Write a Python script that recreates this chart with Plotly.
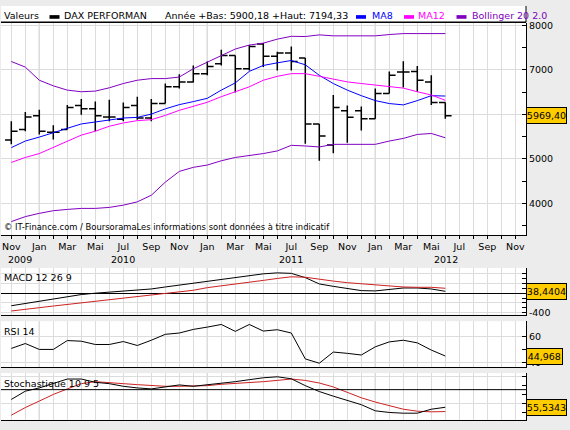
import plotly.graph_objects as go

# monthly bars, Nov 2009 .. Jun 2012 (index 0 = Nov 2009)
months = list(range(32))
open_ = [5424, 5660, 5970, 5601, 5660, 6199, 6125, 5941, 5889, 6199, 5919, 6244,
         6620, 6731, 6915, 7137, 7322, 7026, 7580, 7307, 7381, 7270, 5786, 5313,
         6081, 6081, 5904, 6472, 6952, 6967, 6731, 6266]
high = [5845, 6052, 6103, 5756, 6214, 6347, 6288, 6332, 6266, 6399, 6347, 6694,
        6901, 7100, 7189, 7454, 7322, 7558, 7602, 7410, 7528, 7270, 5786, 6435,
        6199, 6177, 6583, 6967, 7194.33, 7085, 6878, 6266]
low = [5328, 5624, 5550, 5439, 5660, 5992, 5624, 5845, 5845, 5882, 5845, 6244,
       6583, 6716, 6878, 7100, 6495, 6989, 7063, 6989, 6989, 5343, 4959, 5129,
       5365, 5638, 5904, 6472, 6605, 6509, 6214, 5900.18]
close = [5624, 5941, 5624, 5601, 6155, 6125, 5970, 5941, 6155, 5919, 6244, 6620,
         6731, 6915, 7078, 7322, 7026, 7528, 7307, 7381, 7189, 5786, 5513, 6155,
         5934, 5904, 6472, 6878, 6952, 6768, 6266, 5969.40]

ma8 = [5254, 5402, 5491, 5586, 5697, 5786, 5830, 5882, 5919, 5934, 6007, 6125,
       6220, 6288, 6362, 6546, 6709, 6967, 7100, 7159, 7211, 7115, 6878, 6694,
       6546, 6421, 6310, 6244, 6214, 6310, 6421, 6413]
ma12 = [4922, 5033, 5121, 5254, 5402, 5535, 5623, 5734, 5808, 5860, 5882, 5978,
        6092, 6177, 6273, 6399, 6509, 6620, 6768, 6856, 6916, 6916, 6856, 6790,
        6731, 6694, 6657, 6620, 6591, 6509, 6436, 6317]
boll_up = [7189, 7063, 6768, 6642, 6546, 6509, 6524, 6598, 6694, 6768, 6805, 6805,
           6840, 7026, 7174, 7322, 7469, 7558, 7602, 7691, 7755, 7750, 7787, 7765,
           7765, 7765, 7765, 7794, 7816, 7816, 7816, 7816]
boll_low = [3593, 3704, 3778, 3837, 3866, 3889, 3889, 3911, 3962, 4036, 4184, 4479,
            4720, 4811, 4863, 4959, 5033, 5070, 5121, 5180, 5306, 5291, 5269, 5328,
            5328, 5313, 5328, 5402, 5461, 5550, 5572, 5476]

macd = [-258, -210, -163, -129, -75, -28, 0, 20, 40, 60, 87, 128,
        168, 209, 249, 283, 331, 371, 398, 418, 408, 320, 190, 141,
        94, 53, 47, 80, 107, 107, 87, 38.4404]
macd_signal = [-366, -325, -298, -264, -231, -197, -163, -136, -102, -75, -41, -7,
               26, 60, 114, 155, 195, 229, 263, 303, 337, 328, 283, 249,
               216, 195, 168, 141, 128, 121, 121, 101]
rsi = [50.75, 54.5, 50, 50, 56.75, 56.25, 53.75, 53.75, 56, 53, 57, 61.5,
       62.5, 65.25, 67, 69, 63.75, 69, 64, 65, 62.5, 42.75, 39.5, 48,
       47, 45.75, 52, 55.75, 57, 55, 49.5, 44.968]
stoch_k = [64.2, 73.3, 76.9, 81.6, 86.7, 86.7, 83.1, 81.6, 78.7, 76.9, 75.8, 78.0,
           80.2, 78.7, 80.2, 82.3, 83.8, 86.0, 88.1, 89.2, 87.0, 79.4, 72.9, 67.8,
           63.5, 58.4, 51.6, 49.8, 49.0, 49.0, 53.4, 55.5343]
stoch_d = [46.8, 55.2, 62.4, 69.7, 75.8, 81.6, 83.8, 83.1, 81.6, 80.5, 79.4, 78.7,
           78.7, 78.7, 79.4, 80.9, 81.6, 82.3, 83.8, 85.2, 86.7, 85.2, 82.3, 78.0,
           72.2, 66.0, 61.3, 57.0, 53.4, 51.2, 50.5, 50.8]

# x axis: month slots Nov 2009 .. Nov 2012
month_ticks = list(range(37))
month_labels = ["Nov", "", "Jan", "", "Mar", "", "Mai", "", "Jul", "", "Sep", "",
                "Nov", "", "Jan", "", "Mar", "", "Mai", "", "Jul", "", "Sep", "",
                "Nov", "", "Jan", "", "Mar", "", "Mai", "", "Jul", "", "Sep", "", "Nov"]
year_labels = ["2009", "2010", "2011", "2012"]
year_pos = [0.62, 8.0, 20.0, 31.04]
january_pos = [2, 14, 26]

FONT = "DejaVu Sans"
GRID = "#DCDCDC"
W, H = 570, 430
L, R = 1, 44


def px(x):
    return (x - L) / (W - L - R)


def py(y):
    return 1 - y / H


fig = go.Figure()

fig.add_trace(go.Ohlc(x=months, open=open_, high=high, low=low, close=close,
                      increasing=dict(line=dict(color="black", width=1.5)),
                      decreasing=dict(line=dict(color="black", width=1.5)),
                      tickwidth=0.45, hoverinfo="skip", xaxis="x", yaxis="y"))
for vals, col in [(ma8, "#0000FF"), (ma12, "#FF00FF"), (boll_up, "#8000C0"), (boll_low, "#8000C0")]:
    fig.add_trace(go.Scatter(x=months, y=vals, mode="lines", line=dict(color=col, width=1),
                             hoverinfo="skip", xaxis="x", yaxis="y"))

fig.add_trace(go.Scatter(x=months, y=macd, mode="lines", line=dict(color="black", width=1),
                         xaxis="x2", yaxis="y2"))
fig.add_trace(go.Scatter(x=months, y=macd_signal, mode="lines", line=dict(color="#CC2222", width=1),
                         xaxis="x2", yaxis="y2"))
fig.add_trace(go.Scatter(x=months, y=rsi, mode="lines", line=dict(color="black", width=1),
                         xaxis="x3", yaxis="y3"))
fig.add_trace(go.Scatter(x=months, y=stoch_d, mode="lines", line=dict(color="#CC2222", width=1),
                         xaxis="x4", yaxis="y4"))
fig.add_trace(go.Scatter(x=months, y=stoch_k, mode="lines", line=dict(color="black", width=1),
                         xaxis="x4", yaxis="y4"))

xrange = [-0.736, 36.764]
xbase = dict(range=xrange, tickvals=month_ticks, showgrid=True, gridcolor=GRID,
             showline=True, linecolor="black", linewidth=1, zeroline=False, fixedrange=True)
ybase = dict(side="right", showline=True, linecolor="black", linewidth=1, ticks="inside",
             ticklen=4, tickcolor="black", gridcolor=GRID, zeroline=False,
             fixedrange=True, tickfont=dict(family=FONT, size=9.5, color="black"))

# panel domains (pixel rows of the reference)
dom_main = [py(235.3), py(20)]
dom_macd = [py(316), py(268.7)]
dom_rsi = [py(369.3), py(322.7)]
dom_sto = [py(422.7), py(375.3)]
yr_main = [3291, 8060]
yr_macd = [-440, 519]
yr_rsi = [36.5, 71.5]
yr_sto = [41.7, 93.3]

fig.update_layout(
    width=W, height=H, margin=dict(l=L, r=R, t=0, b=0),
    paper_bgcolor="#ECECEC", plot_bgcolor="white", showlegend=False,
    font=dict(family=FONT, size=9.5, color="black"),
    xaxis=dict(xbase, anchor="y", ticktext=month_labels, ticks="outside", ticklen=3,
               tickcolor="black", tickfont=dict(family=FONT, size=9.5, color="black"),
               rangeslider=dict(visible=False)),
    xaxis2=dict(xbase, anchor="y2", matches="x", showticklabels=False),
    xaxis3=dict(xbase, anchor="y3", matches="x", showticklabels=False),
    xaxis4=dict(xbase, anchor="y4", matches="x", showticklabels=False),
    yaxis=dict(ybase, domain=dom_main, anchor="x", range=yr_main,
               tickvals=[4000, 5000, 6000, 7000, 8000],
               minor=dict(tickvals=[3500, 4500, 5500, 6500, 7500], ticks="inside",
                          ticklen=4, tickcolor="black", showgrid=False)),
    yaxis2=dict(ybase, domain=dom_macd, anchor="x2", range=yr_macd,
                tickvals=[-400, -200, 200, 400], ticktext=["-400", "", "", ""],
                zeroline=True, zerolinecolor="black", zerolinewidth=1,
                minor=dict(tickvals=[-300, -100, 0, 100, 300], ticks="inside",
                           ticklen=4, tickcolor="black", showgrid=False)),
    yaxis3=dict(ybase, domain=dom_rsi, anchor="x3", range=yr_rsi,
                tickvals=[40, 60], ticktext=["40", "60"],
                minor=dict(tickvals=[50], ticks="inside", ticklen=4, tickcolor="black",
                           showgrid=False)),
    yaxis4=dict(ybase, domain=dom_sto, anchor="x4", range=yr_sto,
                tickvals=[60, 90], ticktext=["", ""],
                minor=dict(tickvals=[50, 70, 80], ticks="inside", ticklen=4,
                           tickcolor="black", showgrid=False)),
)

shapes = []
# darker January separators in every panel
for k, yr in [("", yr_main), ("2", yr_macd), ("3", yr_rsi), ("4", yr_sto)]:
    for j in january_pos:
        shapes.append(dict(type="line", xref="x" + k, yref="y" + k, x0=j, x1=j,
                           y0=yr[0], y1=yr[1], line=dict(color="#A0A0A0", width=1),
                           layer="below"))
# stochastic reference line
shapes.append(dict(type="line", xref="x4", yref="y4", x0=xrange[0], x1=xrange[1], y0=75, y1=75,
                   line=dict(color="black", width=1)))
# header band
shapes.append(dict(type="rect", xref="paper", yref="paper", x0=0, x1=1, y0=py(19.5), y1=py(3),
                   fillcolor="white", line=dict(width=0), layer="below"))
shapes.append(dict(type="line", xref="paper", yref="paper", x0=0, x1=1, y0=py(19.5), y1=py(19.5),
                   line=dict(color="black", width=1.5)))
shapes.append(dict(type="line", xref="paper", yref="paper", x0=1, x1=1, y0=py(19.5), y1=py(3),
                   line=dict(color="black", width=1)))
# legend swatches
for x0, col in [(49.5, "black"), (356, "#0000FF"), (404, "#FF00FF"), (456.5, "#8000C0")]:
    shapes.append(dict(type="rect", xref="paper", yref="paper", x0=px(x0), x1=px(x0 + 10),
                       y0=py(16), y1=py(12.3), fillcolor=col, line=dict(width=0)))
fig.update_layout(shapes=shapes)

ann = []


def text(x, y, s, color="black", size=9.5):
    ann.append(dict(xref="paper", yref="paper", x=px(x), y=py(y), text=s, showarrow=False,
                    xanchor="left", yanchor="middle", borderpad=0,
                    font=dict(family=FONT, size=size, color=color)))


text(3, 13, "Valeurs")
text(63, 13, "DAX PERFORMAN")
text(164, 13, "Année +Bas: 5900,18 +Haut: 7194,33")
text(370.5, 13, "MA8", "#0000FF")
text(417, 13, "MA12", "#FF00FF")
text(470.5, 13, "Bollinger 20 2.0", "#8000C0")
text(3, 227, "© IT-Finance.com / BoursoramaLes informations sont données à titre indicatif", size=8.4)
text(3, 278.7, "MACD 12 26 9")
text(3, 332.7, "RSI 14")
text(3, 386, "Stochastique 10 9 5")

for lab, xp in zip(year_labels, year_pos):
    ann.append(dict(xref="x", yref="paper", x=xp, y=py(260.3), text=lab, showarrow=False,
                    xanchor="center", yanchor="middle", font=dict(family=FONT, size=9.5)))

# current value boxes
for yref, val, lab, w in [("y", close[-1], "5969,40", 39), ("y2", macd[-1], "38,4404", 39),
                          ("y3", rsi[-1], "44,968", 34.5), ("y4", stoch_k[-1], "55,5343", 39)]:
    ann.append(dict(xref="paper", yref=yref, x=1, y=val, text=lab, showarrow=False,
                    xanchor="left", yanchor="middle", bgcolor="#FFCC00", bordercolor="black",
                    borderwidth=1, borderpad=0, width=w, height=14.5, align="center",
                    font=dict(family=FONT, size=9.5, color="black")))

fig.update_layout(annotations=ann)

fig.write_html("out.html", config={"displayModeBar": False},
               post_script="document.body.style.margin='0';document.body.style.overflow='hidden';")
